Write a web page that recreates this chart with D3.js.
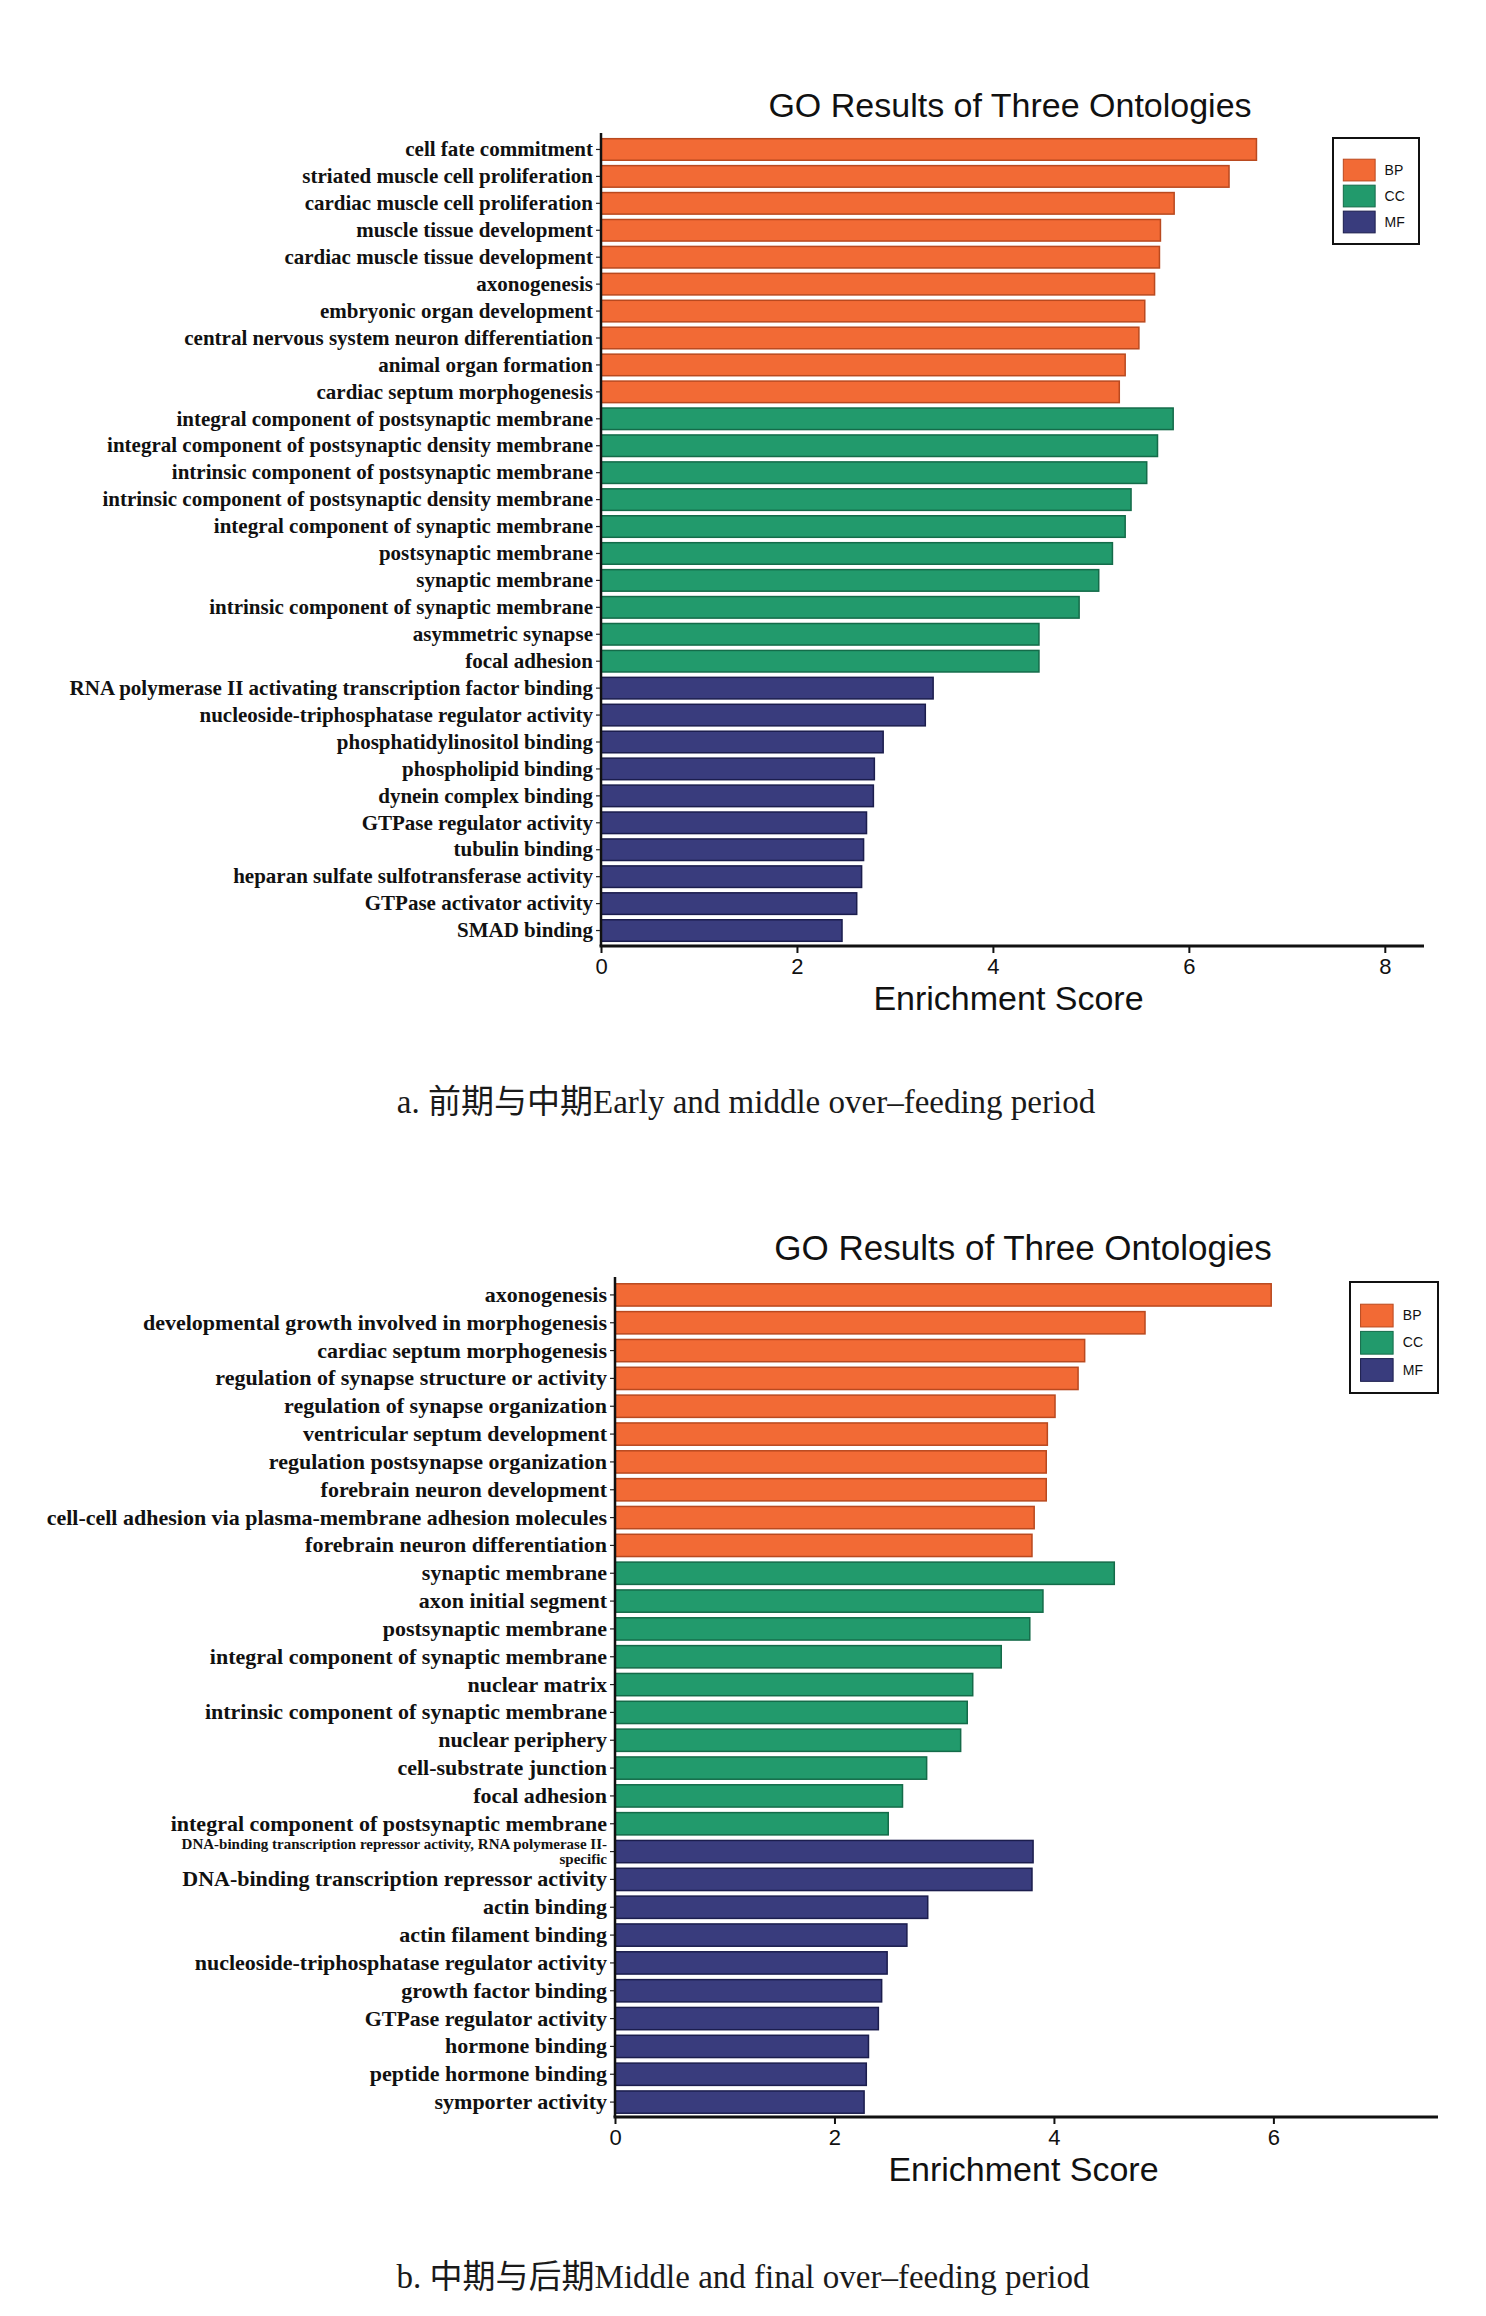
<!DOCTYPE html>
<html>
<head>
<meta charset="utf-8">
<script src="https://d3js.org/d3.v7.min.js"></script>
<style>
  body { margin: 0; background: #fff; }
  .lbl { font-family: "Liberation Serif", "Times New Roman", serif; font-weight: bold; fill: #111; }
  .sans { font-family: "Liberation Sans", Arial, Helvetica, sans-serif; fill: #111; }
  .caption { font-family: "Liberation Serif", "Noto Sans CJK SC", serif; fill: #1a1a1a; }
</style>
</head>
<body>
<svg id="fig" width="1486" height="2316"></svg>
<script>
// ---- data: panel a (early vs middle) ----
const aTermsBP = ["cell fate commitment", "striated muscle cell proliferation", "cardiac muscle cell proliferation",
  "muscle tissue development", "cardiac muscle tissue development", "axonogenesis", "embryonic organ development",
  "central nervous system neuron differentiation", "animal organ formation", "cardiac septum morphogenesis"];
const aScoresBP = [6.69, 6.41, 5.85, 5.71, 5.70, 5.65, 5.55, 5.49, 5.35, 5.29];
const aTermsCC = ["integral component of postsynaptic membrane", "integral component of postsynaptic density membrane",
  "intrinsic component of postsynaptic membrane", "intrinsic component of postsynaptic density membrane",
  "integral component of synaptic membrane", "postsynaptic membrane", "synaptic membrane",
  "intrinsic component of synaptic membrane", "asymmetric synapse", "focal adhesion"];
const aScoresCC = [5.84, 5.68, 5.57, 5.41, 5.35, 5.22, 5.08, 4.88, 4.47, 4.47];
const aTermsMF = ["RNA polymerase II activating transcription factor binding", "nucleoside-triphosphatase regulator activity",
  "phosphatidylinositol binding", "phospholipid binding", "dynein complex binding", "GTPase regulator activity",
  "tubulin binding", "heparan sulfate sulfotransferase activity", "GTPase activator activity", "SMAD binding"];
const aScoresMF = [3.39, 3.31, 2.88, 2.79, 2.78, 2.71, 2.68, 2.66, 2.61, 2.46];
const aTicks = [0, 2, 4, 6, 8];

// ---- data: panel b (middle vs final) ----
const bTermsBP = ["axonogenesis", "developmental growth involved in morphogenesis", "cardiac septum morphogenesis",
  "regulation of synapse structure or activity", "regulation of synapse organization", "ventricular septum development",
  "regulation postsynapse organization", "forebrain neuron development",
  "cell-cell adhesion via plasma-membrane adhesion molecules", "forebrain neuron differentiation"];
const bScoresBP = [5.98, 4.83, 4.28, 4.22, 4.01, 3.94, 3.93, 3.93, 3.82, 3.80];
const bTermsCC = ["synaptic membrane", "axon initial segment", "postsynaptic membrane", "integral component of synaptic membrane",
  "nuclear matrix", "intrinsic component of synaptic membrane", "nuclear periphery", "cell-substrate junction",
  "focal adhesion", "integral component of postsynaptic membrane"];
const bScoresCC = [4.55, 3.90, 3.78, 3.52, 3.26, 3.21, 3.15, 2.84, 2.62, 2.49];
const bTermsMF = ["DNA-binding transcription repressor activity, RNA polymerase II-specific",
  "DNA-binding transcription repressor activity", "actin binding", "actin filament binding",
  "nucleoside-triphosphatase regulator activity", "growth factor binding", "GTPase regulator activity",
  "hormone binding", "peptide hormone binding", "symporter activity"];
const bScoresMF = [3.81, 3.80, 2.85, 2.66, 2.48, 2.43, 2.40, 2.31, 2.29, 2.27];
const bTicks = [0, 2, 4, 6];

const ontologies = ["BP", "CC", "MF"];
const chartTitle = "GO Results of Three Ontologies";
const axisTitle = "Enrichment Score";
const captionA = "a. 前期与中期Early and middle over–feeding period";
const captionB = "b. 中期与后期Middle and final over–feeding period";

// styles
const fillColor = d3.scaleOrdinal().domain(ontologies).range(["#f26a35", "#229a6c", "#393c7d"]);
const edgeColor = d3.scaleOrdinal().domain(ontologies).range(["#b9491f", "#146b49", "#1b1d4d"]);

const svg = d3.select("#fig");

function rows(terms, scores, ont) {
  return terms.map((t, i) => ({ term: t, score: scores[i], ont: ont }));
}

// too-long labels get a smaller font and break over two lines
function wrapLabel(sel, maxW, smallSize, wrapW) {
  sel.each(function () {
    const t = d3.select(this);
    if (this.getComputedTextLength() <= maxW) return;
    const full = t.text();
    t.style("font-size", smallSize + "px").attr("dy", null);
    const parts = full.split(/(?<=[\s-])/);
    let lines = [], cur = "";
    t.text("");
    const probe = t.append("tspan");
    parts.forEach(p => {
      probe.text(cur + p);
      if (cur && probe.node().getComputedTextLength() > wrapW) { lines.push(cur.trimEnd()); cur = p; }
      else cur += p;
    });
    lines.push(cur.trimEnd());
    probe.remove();
    lines.forEach((ln, k) => {
      t.append("tspan").attr("x", t.attr("x"))
        .attr("dy", k === 0 ? "-2.5px" : "14.5px").text(ln);
    });
  });
}

function drawPanel(data, ticks, L, caption) {
  const g = svg.append("g");
  const x = d3.scaleLinear().domain([0, L.xMax]).range([L.x0, L.x1]);
  const y = d3.scaleBand().domain(data.map(d => d.term)).range([L.yTop, L.yBottom]).paddingInner(0.2).paddingOuter(0.1);

  g.selectAll("rect.bar").data(data).enter().append("rect")
    .attr("class", "bar")
    .attr("x", x(0))
    .attr("y", d => y(d.term))
    .attr("width", d => x(d.score) - x(0))
    .attr("height", y.bandwidth())
    .attr("fill", d => fillColor(d.ont))
    .attr("stroke", d => edgeColor(d.ont))
    .attr("stroke-width", 1.5);

  // y axis with term labels
  const ya = g.append("g").attr("transform", `translate(${x(0)},0)`)
    .call(d3.axisLeft(y).tickSize(5).tickSizeOuter(0).tickPadding(3));
  ya.select(".domain").remove();
  ya.selectAll(".tick line").attr("stroke", "#222").attr("stroke-width", 1.2);
  ya.selectAll(".tick text").attr("class", "lbl").style("font-size", L.labelSize + "px").attr("fill", "#111")
    .call(wrapLabel, 585, 15, 445);
  g.append("line").attr("x1", x(0)).attr("x2", x(0)).attr("y1", L.axisTop).attr("y2", L.axisY)
    .attr("stroke", "#111").attr("stroke-width", 2.5);

  // x axis
  const xa = g.append("g").attr("transform", `translate(0,${L.axisY})`)
    .call(d3.axisBottom(x).tickValues(ticks).tickFormat(d3.format("d")).tickSize(7).tickSizeOuter(0).tickPadding(5));
  xa.select(".domain").remove();
  xa.selectAll(".tick line").attr("stroke", "#111").attr("stroke-width", 2);
  xa.selectAll(".tick text").attr("class", "sans").style("font-size", "22px").attr("fill", "#111");
  g.append("line").attr("x1", x(0) - 1.5).attr("x2", L.x1).attr("y1", L.axisY).attr("y2", L.axisY)
    .attr("stroke", "#111").attr("stroke-width", 3);

  g.append("text").attr("class", "sans").attr("x", (L.x0 + L.x1) / 2 + L.axisTitleDx).attr("y", L.axisY + 64)
    .attr("text-anchor", "middle").style("font-size", "34px").text(axisTitle);

  g.append("text").attr("class", "sans").attr("x", L.titleX).attr("y", L.titleY)
    .attr("text-anchor", "middle").style("font-size", L.bigSize + "px").text(chartTitle);

  // legend
  const lg = g.append("g").attr("transform", `translate(${L.lx},${L.ly})`);
  lg.append("rect").attr("width", L.lw).attr("height", L.lh).attr("fill", "#fff")
    .attr("stroke", "#111").attr("stroke-width", 2);
  ontologies.forEach((o, i) => {
    lg.append("rect").attr("x", L.lw * 0.12).attr("y", L.lh * 0.2 + i * L.lh * 0.245)
      .attr("width", L.lw * 0.37).attr("height", L.lh * 0.205)
      .attr("fill", fillColor(o)).attr("stroke", edgeColor(o)).attr("stroke-width", 1);
    lg.append("text").attr("class", "sans").attr("x", L.lw * 0.6)
      .attr("y", L.lh * 0.2 + i * L.lh * 0.245 + L.lh * 0.1 + 5)
      .style("font-size", "14px").attr("fill", "#333").text(o);
  });

  svg.append("text").attr("class", "caption").attr("x", L.capX).attr("y", L.capY)
    .attr("text-anchor", "middle").style("font-size", "33px").text(caption);
}

const dataA = [].concat(rows(aTermsBP, aScoresBP, "BP"), rows(aTermsCC, aScoresCC, "CC"), rows(aTermsMF, aScoresMF, "MF"));
const dataB = [].concat(rows(bTermsBP, bScoresBP, "BP"), rows(bTermsCC, bScoresCC, "CC"), rows(bTermsMF, bScoresMF, "MF"));

drawPanel(dataA, aTicks, {
  x0: 601, x1: 1424, xMax: 8.4, yTop: 136, yBottom: 944, axisY: 946, axisTop: 133, axisTitleDx: -4,
  labelSize: 21, bigSize: 34,
  titleX: 1010, titleY: 117, lx: 1333, ly: 138, lw: 86, lh: 106, capX: 746, capY: 1113
}, captionA);

drawPanel(dataB, bTicks, {
  x0: 615, x1: 1438, xMax: 7.5, yTop: 1281, yBottom: 2116, axisY: 2117, axisTop: 1277, axisTitleDx: -3,
  labelSize: 22, bigSize: 35,
  titleX: 1023, titleY: 1260, lx: 1350, ly: 1282, lw: 88, lh: 111, capX: 743, capY: 2288
}, captionB);
</script>
</body>
</html>
